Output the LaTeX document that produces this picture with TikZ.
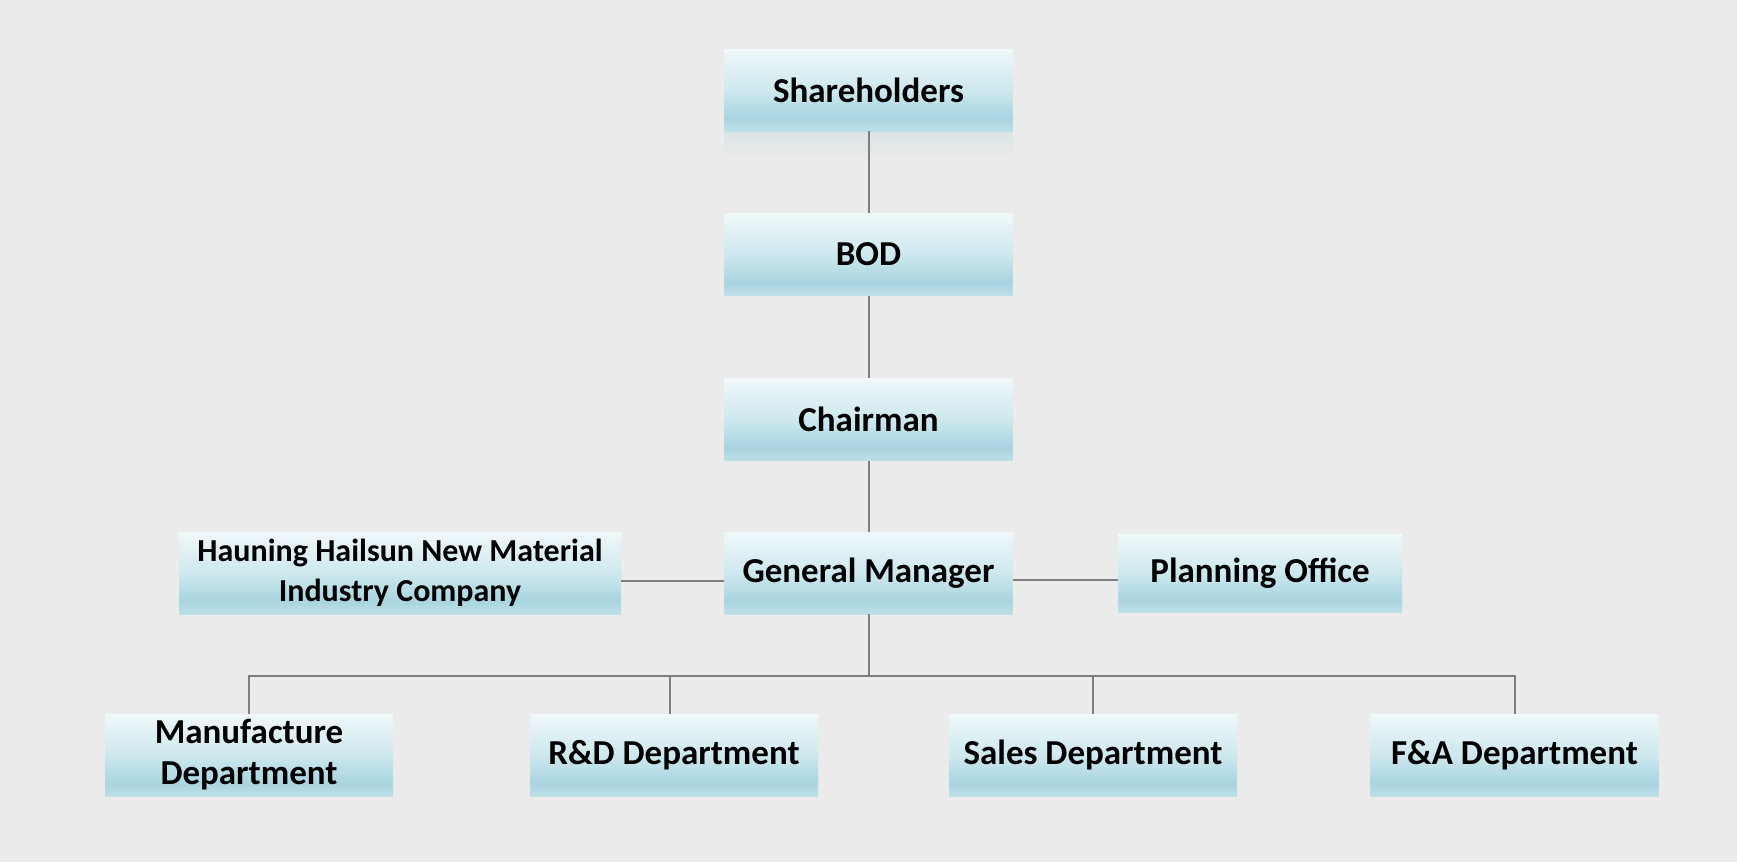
\documentclass[tikz,border=0pt]{standalone}
\usepackage{fontspec}
\setmainfont{Carlito}
\usetikzlibrary{calc}
\definecolor{bgc}{HTML}{EBEBEB}
\definecolor{btop}{HTML}{F0F8FA}
\definecolor{bmid}{HTML}{CDE8EE}
\definecolor{bdark}{HTML}{A9D5E0}
\definecolor{bbot}{HTML}{BEDFE7}
\definecolor{linec}{HTML}{7F7F7F}
\definecolor{reftop}{HTML}{D9E3E5}
\pgfdeclareverticalshading{boxshade}{100bp}{color(0bp)=(bbot); color(25bp)=(bbot); color(33bp)=(bdark); color(50bp)=(bmid); color(75bp)=(btop); color(100bp)=(btop)}
\tikzset{
  orgbox/.style={rectangle, shading=boxshade, minimum width=288pt, minimum height=82pt,
    inner sep=0pt, align=center, text=black,
    font=\fontsize{35}{41}\selectfont\bfseries},
  smalltext/.style={font=\fontsize{32}{40}\selectfont\bfseries},
  conn/.style={draw=linec, line width=2pt}
}
\begin{document}
\begin{tikzpicture}[x=1pt,y=-1pt]
\fill[bgc] (0,0) rectangle (1737,862);
\useasboundingbox (0,0) rectangle (1737,862);
% reflection below Shareholders
\shade[top color=reftop, bottom color=bgc] (724.5,131) rectangle (1012.5,158);
\node[orgbox] (sh) at (868.5,90) {Shareholders};
\node[orgbox] (bod) at (868.5,254.5) {BOD};
\node[orgbox] (ch) at (868.5,419.5) {Chairman};
\node[orgbox] (gm) at (868.5,573) {General Manager};
\node[orgbox, smalltext, minimum width=442pt] (hau) at (400,573) {Hauning Hailsun New Material\\Industry Company};
\node[orgbox, minimum width=284pt, minimum height=78pt] (po) at (1260,573) {Planning Office};
\node[orgbox] (man) at (249,755) {Manufacture\\Department};
\node[orgbox] (rd) at (674,755) {R\&D Department};
\node[orgbox] (sales) at (1093,755) {Sales Department};
\node[orgbox] (fa) at (1514.5,755) {F\&A Department};
\coordinate (bus) at (868.5,676);
\draw[conn] (sh.south) -- (bod.north);
\draw[conn] (bod.south) -- (ch.north);
\draw[conn] (ch.south) -- (gm.north);
\draw[conn] ([yshift=-8pt]gm.west) -- ([yshift=-8pt]gm.west -| hau.east);
\draw[conn] ([yshift=-7pt]gm.east) -- ([yshift=-7pt]gm.east -| po.west);
\draw[conn] (gm.south) -- (bus);
\draw[conn] (man.north) -- (man.north |- bus) -- (fa.north |- bus) -- (fa.north);
\draw[conn] ([xshift=-4pt]rd.north) -- ([xshift=-4pt]rd.north |- bus);
\draw[conn] (sales.north) -- (sales.north |- bus);
\end{tikzpicture}
\end{document}
